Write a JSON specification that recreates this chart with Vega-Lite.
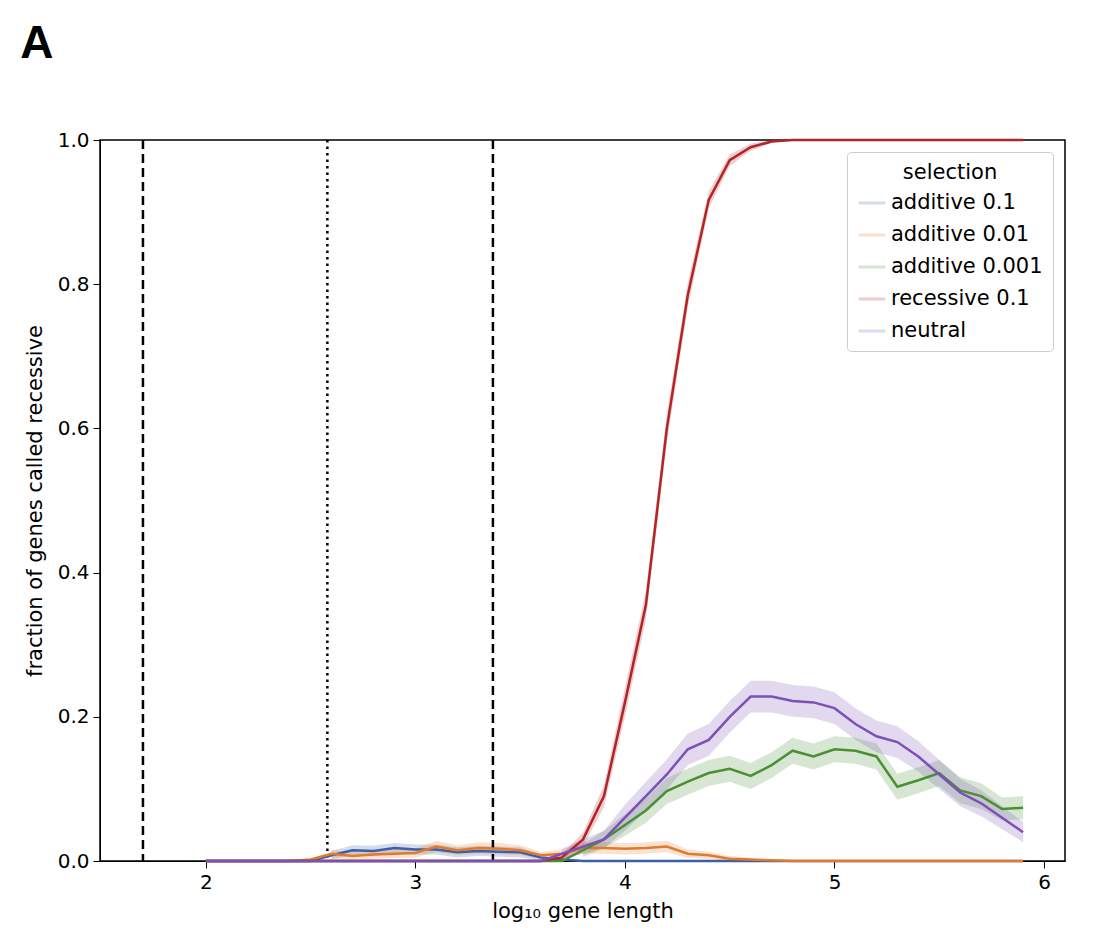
{
  "$schema": "https://vega.github.io/schema/vega-lite/v6.json",
  "width": 965,
  "height": 721,
  "autosize": "none",
  "padding": {"left": 100, "top": 140, "right": 42, "bottom": 82},
  "background": "white",
  "config": {"view": {"stroke": "black", "strokeWidth": 1.5}, "font": "DejaVu Sans"},
  "title": {"text": "LLRT", "fontSize": 60, "fontWeight": "normal", "font": "Liberation Sans", "anchor": "middle", "offset": 20, "color": "black"},
  "datasets": {
    "series": [
      {"x":2.0,"s":"additive 0.1","y":0},{"x":2.5,"s":"additive 0.1","y":0},{"x":2.6,"s":"additive 0.1","y":0.008,"lo":0.002,"hi":0.014},{"x":2.7,"s":"additive 0.1","y":0.015,"lo":0.008,"hi":0.022},{"x":2.8,"s":"additive 0.1","y":0.014,"lo":0.007,"hi":0.021},{"x":2.9,"s":"additive 0.1","y":0.018,"lo":0.011,"hi":0.025},{"x":3.0,"s":"additive 0.1","y":0.016,"lo":0.009,"hi":0.023},{"x":3.1,"s":"additive 0.1","y":0.016,"lo":0.009,"hi":0.023},{"x":3.2,"s":"additive 0.1","y":0.012,"lo":0.005,"hi":0.019},{"x":3.3,"s":"additive 0.1","y":0.014,"lo":0.007,"hi":0.021},{"x":3.4,"s":"additive 0.1","y":0.013,"lo":0.006,"hi":0.02},{"x":3.5,"s":"additive 0.1","y":0.012,"lo":0.005,"hi":0.019},{"x":3.6,"s":"additive 0.1","y":0.005,"lo":0.001,"hi":0.009},{"x":3.7,"s":"additive 0.1","y":0.002},{"x":3.8,"s":"additive 0.1","y":0},{"x":5.9,"s":"additive 0.1","y":0},

      {"x":2.0,"s":"additive 0.01","y":0},{"x":2.4,"s":"additive 0.01","y":0},{"x":2.5,"s":"additive 0.01","y":0.002},{"x":2.6,"s":"additive 0.01","y":0.01,"lo":0.004,"hi":0.016},{"x":2.7,"s":"additive 0.01","y":0.007,"lo":0.002,"hi":0.012},{"x":2.8,"s":"additive 0.01","y":0.009,"lo":0.003,"hi":0.015},{"x":2.9,"s":"additive 0.01","y":0.01,"lo":0.004,"hi":0.016},{"x":3.0,"s":"additive 0.01","y":0.011,"lo":0.005,"hi":0.017},{"x":3.1,"s":"additive 0.01","y":0.02,"lo":0.012,"hi":0.028},{"x":3.2,"s":"additive 0.01","y":0.015,"lo":0.008,"hi":0.022},{"x":3.3,"s":"additive 0.01","y":0.018,"lo":0.01,"hi":0.026},{"x":3.4,"s":"additive 0.01","y":0.017,"lo":0.009,"hi":0.025},{"x":3.5,"s":"additive 0.01","y":0.015,"lo":0.008,"hi":0.022},{"x":3.6,"s":"additive 0.01","y":0.008,"lo":0.003,"hi":0.013},{"x":3.7,"s":"additive 0.01","y":0.01,"lo":0.004,"hi":0.016},{"x":3.8,"s":"additive 0.01","y":0.018,"lo":0.01,"hi":0.026},{"x":3.9,"s":"additive 0.01","y":0.018,"lo":0.01,"hi":0.026},{"x":4.0,"s":"additive 0.01","y":0.017,"lo":0.009,"hi":0.025},{"x":4.1,"s":"additive 0.01","y":0.018,"lo":0.01,"hi":0.026},{"x":4.2,"s":"additive 0.01","y":0.02,"lo":0.012,"hi":0.028},{"x":4.3,"s":"additive 0.01","y":0.01,"lo":0.004,"hi":0.016},{"x":4.4,"s":"additive 0.01","y":0.008,"lo":0.003,"hi":0.013},{"x":4.5,"s":"additive 0.01","y":0.003,"lo":0,"hi":0.007},{"x":4.6,"s":"additive 0.01","y":0.002,"lo":0,"hi":0.005},{"x":4.7,"s":"additive 0.01","y":0.001},{"x":4.8,"s":"additive 0.01","y":0},{"x":5.9,"s":"additive 0.01","y":0},

      {"x":2.0,"s":"additive 0.001","y":0},{"x":3.7,"s":"additive 0.001","y":0},{"x":3.8,"s":"additive 0.001","y":0.015,"lo":0.006,"hi":0.024},{"x":3.9,"s":"additive 0.001","y":0.03,"lo":0.018,"hi":0.042},{"x":4.0,"s":"additive 0.001","y":0.05,"lo":0.035,"hi":0.065},{"x":4.1,"s":"additive 0.001","y":0.07,"lo":0.053,"hi":0.087},{"x":4.2,"s":"additive 0.001","y":0.097,"lo":0.079,"hi":0.115},{"x":4.3,"s":"additive 0.001","y":0.11,"lo":0.092,"hi":0.128},{"x":4.4,"s":"additive 0.001","y":0.122,"lo":0.104,"hi":0.14},{"x":4.5,"s":"additive 0.001","y":0.128,"lo":0.11,"hi":0.146},{"x":4.6,"s":"additive 0.001","y":0.118,"lo":0.1,"hi":0.136},{"x":4.7,"s":"additive 0.001","y":0.133,"lo":0.115,"hi":0.151},{"x":4.8,"s":"additive 0.001","y":0.153,"lo":0.135,"hi":0.171},{"x":4.9,"s":"additive 0.001","y":0.145,"lo":0.127,"hi":0.163},{"x":5.0,"s":"additive 0.001","y":0.155,"lo":0.137,"hi":0.173},{"x":5.1,"s":"additive 0.001","y":0.153,"lo":0.135,"hi":0.171},{"x":5.2,"s":"additive 0.001","y":0.145,"lo":0.127,"hi":0.163},{"x":5.3,"s":"additive 0.001","y":0.103,"lo":0.085,"hi":0.121},{"x":5.4,"s":"additive 0.001","y":0.112,"lo":0.094,"hi":0.13},{"x":5.5,"s":"additive 0.001","y":0.122,"lo":0.104,"hi":0.14},{"x":5.6,"s":"additive 0.001","y":0.098,"lo":0.08,"hi":0.116},{"x":5.7,"s":"additive 0.001","y":0.09,"lo":0.072,"hi":0.108},{"x":5.8,"s":"additive 0.001","y":0.072,"lo":0.056,"hi":0.088},{"x":5.9,"s":"additive 0.001","y":0.074,"lo":0.058,"hi":0.09},

      {"x":2.0,"s":"recessive 0.1","y":0},{"x":3.6,"s":"recessive 0.1","y":0},{"x":3.7,"s":"recessive 0.1","y":0.005,"lo":0.001,"hi":0.009},{"x":3.8,"s":"recessive 0.1","y":0.03,"lo":0.02,"hi":0.04},{"x":3.9,"s":"recessive 0.1","y":0.09,"lo":0.075,"hi":0.105},{"x":4.0,"s":"recessive 0.1","y":0.22,"lo":0.2,"hi":0.24},{"x":4.1,"s":"recessive 0.1","y":0.355,"lo":0.335,"hi":0.375},{"x":4.2,"s":"recessive 0.1","y":0.6,"lo":0.58,"hi":0.62},{"x":4.3,"s":"recessive 0.1","y":0.785,"lo":0.768,"hi":0.802},{"x":4.4,"s":"recessive 0.1","y":0.917,"lo":0.905,"hi":0.929},{"x":4.5,"s":"recessive 0.1","y":0.972,"lo":0.964,"hi":0.98},{"x":4.6,"s":"recessive 0.1","y":0.99,"lo":0.985,"hi":0.995},{"x":4.7,"s":"recessive 0.1","y":0.998,"lo":0.996,"hi":1},{"x":4.8,"s":"recessive 0.1","y":1},{"x":5.9,"s":"recessive 0.1","y":1},

      {"x":2.0,"s":"neutral","y":0},{"x":3.6,"s":"neutral","y":0},{"x":3.7,"s":"neutral","y":0.01,"lo":0.003,"hi":0.017},{"x":3.8,"s":"neutral","y":0.02,"lo":0.01,"hi":0.03},{"x":3.9,"s":"neutral","y":0.03,"lo":0.018,"hi":0.042},{"x":4.0,"s":"neutral","y":0.06,"lo":0.042,"hi":0.078},{"x":4.1,"s":"neutral","y":0.09,"lo":0.07,"hi":0.11},{"x":4.2,"s":"neutral","y":0.12,"lo":0.099,"hi":0.141},{"x":4.3,"s":"neutral","y":0.155,"lo":0.133,"hi":0.177},{"x":4.4,"s":"neutral","y":0.168,"lo":0.146,"hi":0.19},{"x":4.5,"s":"neutral","y":0.2,"lo":0.178,"hi":0.222},{"x":4.6,"s":"neutral","y":0.228,"lo":0.206,"hi":0.25},{"x":4.7,"s":"neutral","y":0.228,"lo":0.206,"hi":0.25},{"x":4.8,"s":"neutral","y":0.222,"lo":0.2,"hi":0.244},{"x":4.9,"s":"neutral","y":0.22,"lo":0.198,"hi":0.242},{"x":5.0,"s":"neutral","y":0.212,"lo":0.19,"hi":0.234},{"x":5.1,"s":"neutral","y":0.19,"lo":0.168,"hi":0.212},{"x":5.2,"s":"neutral","y":0.173,"lo":0.151,"hi":0.195},{"x":5.3,"s":"neutral","y":0.165,"lo":0.143,"hi":0.187},{"x":5.4,"s":"neutral","y":0.145,"lo":0.124,"hi":0.166},{"x":5.5,"s":"neutral","y":0.12,"lo":0.1,"hi":0.14},{"x":5.6,"s":"neutral","y":0.095,"lo":0.076,"hi":0.114},{"x":5.7,"s":"neutral","y":0.08,"lo":0.062,"hi":0.098},{"x":5.8,"s":"neutral","y":0.06,"lo":0.044,"hi":0.076},{"x":5.9,"s":"neutral","y":0.04,"lo":0.026,"hi":0.054}
    ],
    "vlines": [
      {"x": 1.70, "kind": "dashed"},
      {"x": 2.58, "kind": "dotted"},
      {"x": 3.37, "kind": "dashed"}
    ]
  },
  "layer": [
    {
      "data": {"name": "series"},
      "transform": [{"filter": "datum.lo != null"}],
      "mark": {"type": "area", "opacity": 0.22},
      "encoding": {
        "x": {"field": "x", "type": "quantitative", "scale": {"domain": [1.495, 6.1], "nice": false, "zero": false}},
        "y": {"field": "lo", "type": "quantitative"},
        "y2": {"field": "hi"},
        "color": {"field": "s", "type": "nominal"},
        "detail": {"field": "s"}
      }
    },
    {
      "data": {"name": "vlines"},
      "mark": {"type": "rule", "color": "black", "strokeWidth": 2.5},
      "encoding": {
        "x": {"field": "x", "type": "quantitative"},
        "strokeDash": {"field": "kind", "type": "nominal", "scale": {"domain": ["dashed", "dotted"], "range": [[9, 5], [2.5, 4]]}, "legend": null}
      }
    },
    {
      "data": {"name": "series"},
      "mark": {"type": "line", "strokeWidth": 2.5},
      "encoding": {
        "x": {
          "field": "x", "type": "quantitative",
          "scale": {"domain": [1.495, 6.1], "nice": false, "zero": false},
          "title": "log₁₀ gene length",
          "axis": {"values": [2, 3, 4, 5, 6], "format": "d", "grid": false, "labelFontSize": 20, "titleFontSize": 21, "titleFontWeight": "normal", "labelColor": "black", "titleColor": "black", "tickColor": "black", "domainColor": "black", "tickSize": 7, "labelPadding": 4, "titlePadding": 8}
        },
        "y": {
          "field": "y", "type": "quantitative",
          "scale": {"domain": [0, 1], "nice": false},
          "title": "fraction of genes called recessive",
          "axis": {"values": [0, 0.2, 0.4, 0.6, 0.8, 1.0], "format": ".1f", "grid": false, "labelFontSize": 20, "titleFontSize": 21, "titleFontWeight": "normal", "labelColor": "black", "titleColor": "black", "tickColor": "black", "domainColor": "black", "tickSize": 7, "labelPadding": 4, "titlePadding": 12}
        },
        "color": {
          "field": "s", "type": "nominal",
          "scale": {"domain": ["additive 0.1", "additive 0.01", "additive 0.001", "recessive 0.1", "neutral"], "range": ["#3d5fa8", "#e07b2c", "#4a8f32", "#b22527", "#7d50b8"]},
          "legend": {"title": "selection", "orient": "top-right", "offset": 12, "symbolType": "stroke", "symbolStrokeWidth": 3, "symbolSize": 700, "symbolOpacity": 1, "labelFontSize": 21, "titleFontSize": 21, "titleFontWeight": "normal", "titleAnchor": "middle", "labelColor": "black", "titleColor": "black", "fillColor": "white", "strokeColor": "#cccccc", "cornerRadius": 4, "padding": 10, "rowPadding": 7}
        }
      }
    },
    {
      "data": {"values": [{"x": 1.114, "y": 1.114, "t": "A"}]},
      "mark": {"type": "text", "fontSize": 46, "fontWeight": "bold", "font": "Liberation Sans", "align": "left", "baseline": "alphabetic", "clip": false, "color": "black"},
      "encoding": {
        "x": {"field": "x", "type": "quantitative"},
        "y": {"field": "y", "type": "quantitative"},
        "text": {"field": "t"}
      }
    }
  ]
}
